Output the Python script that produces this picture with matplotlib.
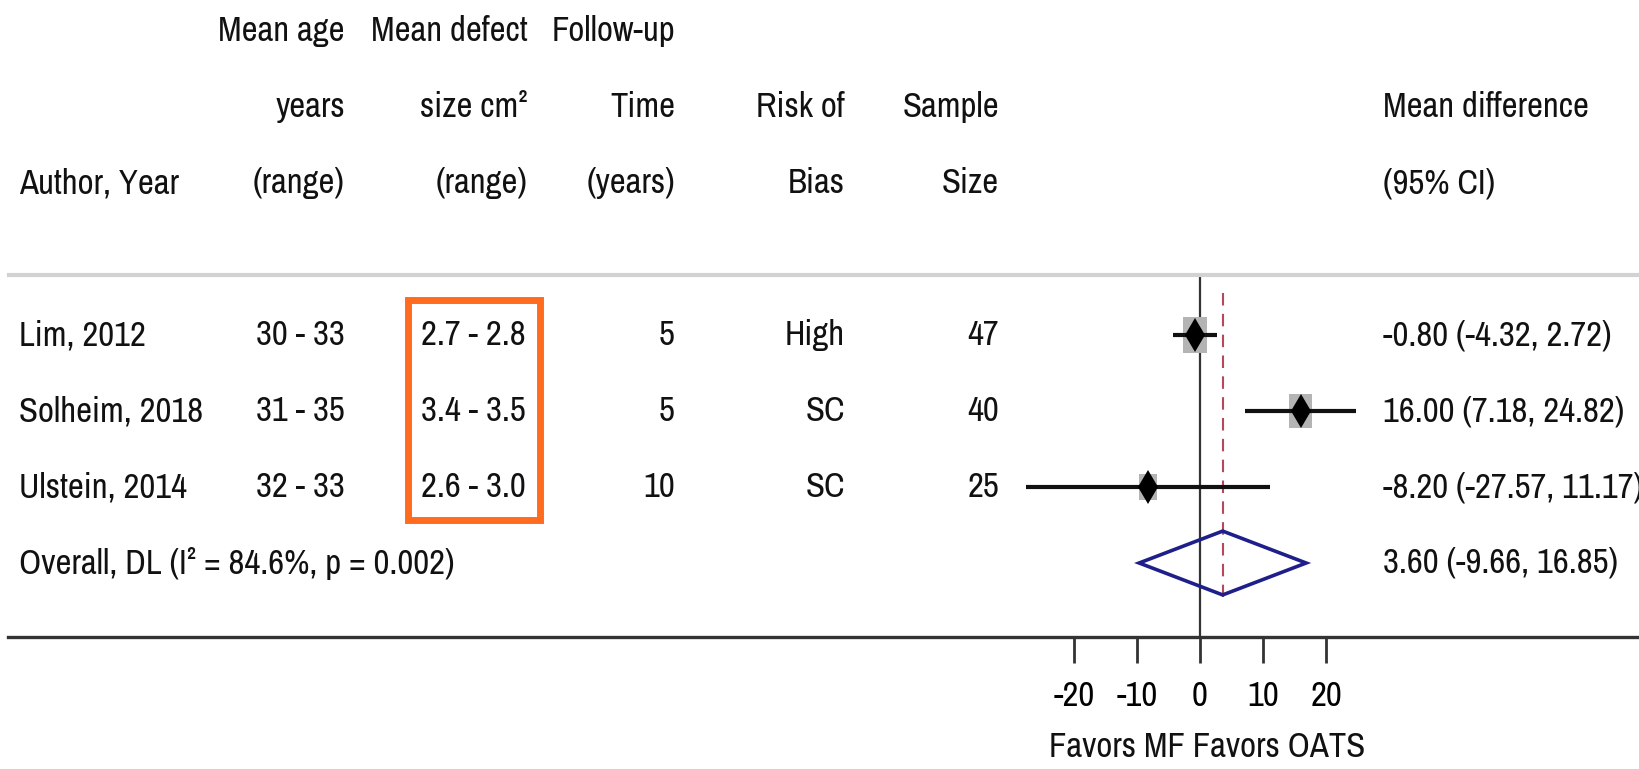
import matplotlib
matplotlib.use("Agg")
import matplotlib.pyplot as plt
from matplotlib import transforms
from matplotlib.lines import Line2D
from matplotlib.patches import Rectangle, Polygon

plt.rcParams['font.family'] = ['Archivo Narrow', 'Liberation Sans Narrow', 'Liberation Sans', 'DejaVu Sans']
plt.rcParams['lines.scale_dashes'] = False

# study table
authors = ["Lim, 2012", "Solheim, 2018", "Ulstein, 2014"]
age_range = ["30 - 33", "31 - 35", "32 - 33"]
defect_range = ["2.7 - 2.8", "3.4 - 3.5", "2.6 - 3.0"]
follow_up = ["5", "5", "10"]
risk_of_bias = ["High", "SC", "SC"]
sample_size = [47, 40, 25]

# effect sizes (mean difference, 95% CI) and random-effects weights (%)
mean_diff = [-0.80, 16.00, -8.20]
ci_low = [-4.32, 7.18, -27.57]
ci_high = [2.72, 24.82, 11.17]
weights = [42.1, 36.5, 22.6]

overall_label = "Overall, DL (I\u00b2 = 84.6%, p = 0.002)"
overall_md = 3.60
overall_low = -9.66
overall_high = 16.85

x_ticks = [-20, -10, 0, 10, 20]
x_title = "Favors MF Favors OATS"

W, H = 1640, 769
FS = 25
ZERO_PX, PX_PER_UNIT = 1200, 6.3
ROW0_PX, ROW_PX = 335, 76


def fx(px):
    return px / W


def fy(py):
    return 1 - py / H


fig = plt.figure(figsize=(W / 100, H / 100), dpi=100)

# forest panel: spans the full width so its bottom spine runs under the table too
ax_top, ax_bot, ax_left = 277, 637, 8
ax = fig.add_axes([fx(ax_left), fy(ax_bot), fx(W) - fx(ax_left), (ax_bot - ax_top) / H])
ax.set_xlim((ax_left - ZERO_PX) / PX_PER_UNIT, (W - ZERO_PX) / PX_PER_UNIT)
ax.set_ylim((ax_bot - ROW0_PX) / ROW_PX, (ax_top - ROW0_PX) / ROW_PX)
for side in ("top", "left", "right"):
    ax.spines[side].set_visible(False)
ax.spines["bottom"].set_linewidth(2.4)
ax.spines["bottom"].set_color("#333333")
ax.set_yticks([])
ax.set_xticks(x_ticks)
ax.set_xticklabels([str(t) for t in x_ticks])
ax.tick_params(axis="x", length=18.7, width=2, color="#333333", labelsize=FS, pad=12)

ax.axvline(0, color="#333333", lw=1.6, zorder=1)
ax.plot([overall_md, overall_md], [-0.55, 3.45], color="#b5495b", lw=1.5,
        dashes=(9, 6), zorder=1)

for i in range(len(authors)):
    box_h = 5.6 * weights[i] ** 0.5
    box_w = 0.68 * box_h
    ax.add_patch(Rectangle((mean_diff[i] - box_w / 2 / PX_PER_UNIT, i - box_h / 2 / ROW_PX),
                           box_w / PX_PER_UNIT, box_h / ROW_PX,
                           facecolor="#b4b4b4", edgecolor="none", zorder=2))
    ax.plot([ci_low[i], ci_high[i]], [i, i], color="#111111", lw=3,
            solid_capstyle="butt", zorder=3)
    ax.plot(mean_diff[i], i, marker="d", markersize=17, markeredgewidth=0,
            color="black", zorder=4)

n = len(authors)
ax.add_patch(Polygon([(overall_low, n), (overall_md, n - 0.42),
                      (overall_high, n), (overall_md, n + 0.42)],
                     closed=True, fill=False, edgecolor="#1f1f8c", lw=2.6, zorder=3))

# table text: x in figure pixels, y in row units of the forest panel
trans = transforms.blended_transform_factory(fig.transFigure, ax.transData)


def cell(x_px, row, s, ha="right"):
    ax.text(fx(x_px), row, s, transform=trans, ha=ha, va="center",
            fontsize=FS, color="#111111", clip_on=False)


header = [
    (345, ["Mean age", "years", "(range)"]),
    (528, ["Mean defect", "size cm\u00b2", "(range)"]),
    (675, ["Follow-up", "Time", "(years)"]),
    (845, ["", "Risk of", "Bias"]),
    (999, ["", "Sample", "Size"]),
]
for x_px, lines in header:
    for k, s in enumerate(lines):
        if s:
            cell(x_px, k - 4, s)
cell(19, -2, "Author, Year", ha="left")
cell(1383, -3, "Mean difference", ha="left")
cell(1383, -2, "(95% CI)", ha="left")

for i in range(n):
    cell(19, i, authors[i], ha="left")
    cell(345, i, age_range[i])
    cell(526, i, defect_range[i])
    cell(675, i, follow_up[i])
    cell(845, i, risk_of_bias[i])
    cell(999, i, str(sample_size[i]))
    cell(1383, i, f"{mean_diff[i]:.2f} ({ci_low[i]:.2f}, {ci_high[i]:.2f})", ha="left")

cell(19, n, overall_label, ha="left")
cell(1383, n, f"{overall_md:.2f} ({overall_low:.2f}, {overall_high:.2f})", ha="left")

fig.text(fx(1207), fy(747), x_title, ha="center", va="center", fontsize=FS, color="#111111")

# header rule
fig.add_artist(Line2D([fx(9), 1], [fy(275), fy(275)], color="#d2d2d2", lw=3))

# highlight around the defect size column
fig.add_artist(Rectangle((fx(408.5), fy(519.5)), fx(539.5) - fx(408.5), (519.5 - 299.5) / H,
                         transform=fig.transFigure, fill=False,
                         edgecolor="#ff6b1f", lw=5))

fig.savefig("out.png", dpi=100)
